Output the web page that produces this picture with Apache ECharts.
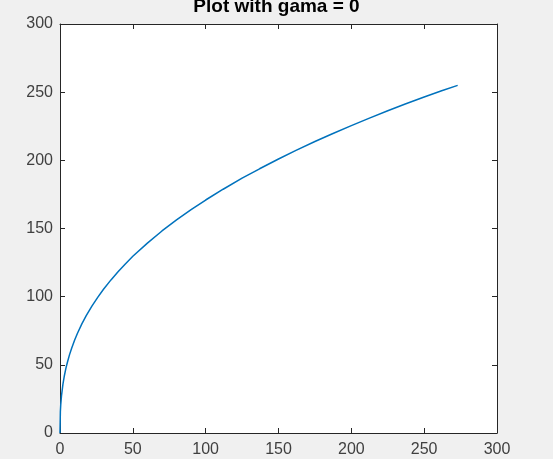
<!DOCTYPE html>
<html>
<head>
<meta charset="utf-8">
<script src="https://cdn.jsdelivr.net/npm/echarts@6/dist/echarts.min.js"></script>
<style>
html,body{margin:0;padding:0;background:#f0f0f0;}
#c{width:553px;height:459px;}
</style>
</head>
<body>
<div id="c"></div>
<script>
// Values
var titleText = 'Plot with gama = 0';
var xValues = [0, 0.25, 0.5, 1, 2, 3, 4, 5, 6.5, 8, 10, 12, 15, 18, 22, 26, 30, 35, 40, 45, 50, 60, 70, 80, 90, 100, 112, 125, 137, 150, 162, 175, 187, 200, 212, 225, 237, 250, 262, 273];
var yValues = [0, 15.6, 20.5, 27.0, 35.7, 42.0, 47.2, 51.5, 57.3, 62.2, 68.0, 73.2, 80.0, 86.1, 93.2, 99.7, 105.6, 112.3, 118.4, 124.2, 129.6, 139.3, 148.2, 156.3, 163.8, 170.9, 178.8, 186.9, 193.8, 201.0, 207.3, 213.8, 219.5, 225.5, 230.8, 236.4, 241.3, 246.5, 251.0, 255.0];
var xTicks = [0, 50, 100, 150, 200, 250, 300];
var yTicks = [0, 50, 100, 150, 200, 250, 300];

var seriesData = xValues.map(function (x, i) { return [x, yValues[i]]; });
var axisColor = '#262626';
var labelColor = '#404040';
var fontFam = '"Liberation Sans", Arial, Helvetica, sans-serif';

function mkAxis(pos, ticks, showLabel, margin) {
  return {
    type: 'value',
    position: pos,
    min: ticks[0],
    max: ticks[ticks.length - 1],
    interval: ticks[1] - ticks[0],
    axisLine: { show: true, onZero: false, lineStyle: { color: axisColor, width: 1 } },
    axisTick: { show: true, inside: true, length: 5, lineStyle: { color: axisColor, width: 1 } },
    axisLabel: { show: showLabel, color: labelColor, fontSize: 16, fontFamily: fontFam, margin: margin },
    splitLine: { show: false }
  };
}

var chart = echarts.init(document.getElementById('c'), null, { renderer: 'canvas' });
chart.setOption({
  backgroundColor: '#f0f0f0',
  animation: false,
  title: {
    text: titleText,
    left: 'center',
    top: -8,
    textStyle: { fontSize: 19, fontWeight: 'bold', color: '#000', fontFamily: fontFam }
  },
  grid: {
    left: 60, right: 56, top: 24, bottom: 26,
    show: true, backgroundColor: '#ffffff', borderWidth: 0
  },
  xAxis: [mkAxis('bottom', xTicks, true, 9), mkAxis('top', xTicks, false, 8)],
  yAxis: [mkAxis('left', yTicks, true, 7), mkAxis('right', yTicks, false, 7)],
  series: [{
    type: 'line',
    xAxisIndex: 0,
    yAxisIndex: 0,
    data: seriesData,
    showSymbol: false,
    symbol: 'none',
    smooth: false,
    lineStyle: { color: '#0072BD', width: 1.5 }
  }]
});
</script>
</body>
</html>
